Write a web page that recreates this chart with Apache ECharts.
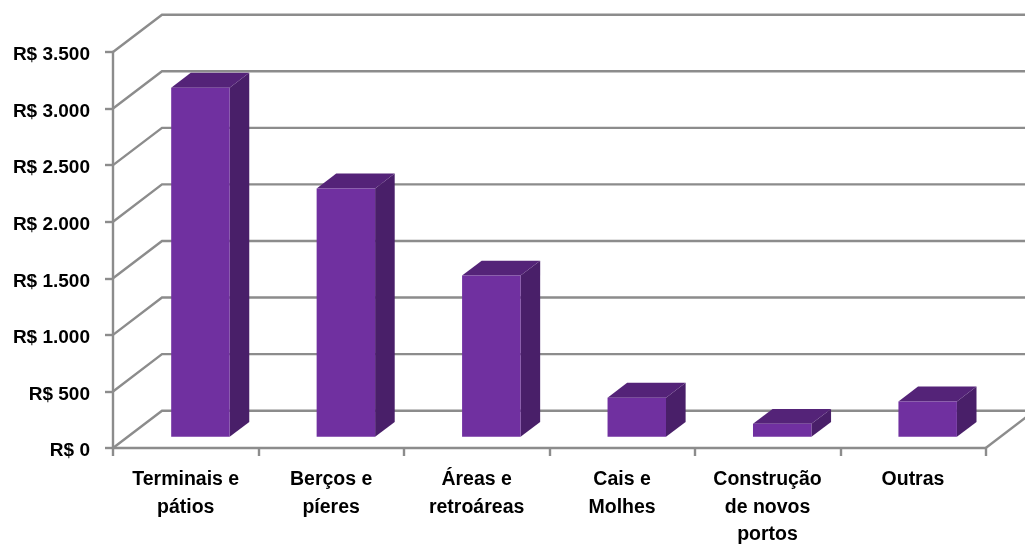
<!DOCTYPE html>
<html>
<head>
<meta charset="utf-8">
<style>html,body{margin:0;padding:0;background:#fff}#c{width:1025px;height:545px}</style>
<script src="https://cdn.jsdelivr.net/npm/echarts@6/dist/echarts.min.js"></script>
</head>
<body>
<div id="c"></div>
<script>
const categories = ['Terminais e\npátios', 'Berços e\npíeres', 'Áreas e\nretroáreas', 'Cais e\nMolhes', 'Construção\nde novos\nportos', 'Outras'];
const values = [3085, 2195, 1425, 345, 115, 312];
const wallTicks = [0, 500, 1000, 1500, 2000, 2500, 3000, 3500];

const GRID = '#8c8c8c', FRONT = '#7030a0', TOP = '#542378', SIDE = '#491f69';
const DX = 49, DY = 37.3;       // full floor depth
const START = 0.3, DEPTH = 0.4; // bar placement along the depth
const BAR = 0.402;              // bar width as a share of a band
const LINE = 2.4;

const chart = echarts.init(document.getElementById('c'), null, {renderer: 'canvas'});
const font = {fontFamily: '"Liberation Sans", Arial, sans-serif', fontWeight: 'bold', color: '#000'};

function money(v) {
  return 'R$ ' + (v >= 1000 ? Math.floor(v / 1000) + '.' + String(v % 1000).padStart(3, '0') : v);
}

chart.setOption({
  animation: false,
  backgroundColor: '#fff',
  grid: {left: 113, right: 39.3, top: 52, bottom: 97, outerBoundsMode: 'none', containLabel: false},
  xAxis: {
    type: 'category', data: categories, boundaryGap: true,
    axisLine: {lineStyle: {color: GRID, width: LINE}},
    axisTick: {show: true, length: 8, alignWithLabel: false, lineStyle: {color: GRID, width: LINE}},
    axisLabel: Object.assign({margin: 18, fontSize: 19.5, lineHeight: 27.6, interval: 0, hideOverlap: false}, font),
    splitLine: {show: false}
  },
  yAxis: {
    type: 'value', min: 0, max: 3500, interval: 500,
    axisLine: {show: true, lineStyle: {color: GRID, width: LINE}},
    axisTick: {show: true, length: 8, lineStyle: {color: GRID, width: LINE}},
    axisLabel: Object.assign({margin: 23, fontSize: 19, lineHeight: 19, verticalAlign: 'top', padding: [-6.5, 0, 0, 0], formatter: money}, font),
    splitLine: {show: false}
  },
  series: [
    {
      type: 'custom', name: 'parede', data: wallTicks.map(v => [0, v]), z: 1, silent: true, clip: false,
      encode: {x: 0, y: 1},
      renderItem(params, api) {
        const g = params.coordSys, y = api.coord([0, api.value(1)])[1];
        return {
          type: 'polyline',
          shape: {points: [[g.x, y], [g.x + DX, y - DY], [g.x + g.width + DX, y - DY]]},
          style: {stroke: GRID, lineWidth: LINE, fill: null}
        };
      }
    },
    {
      type: 'custom', name: 'floorEdge', data: [[5, 0]], z: 1, silent: true, clip: false,
      encode: {x: 0, y: 1},
      renderItem(params, api) {
        const g = params.coordSys, y = api.coord([0, 0])[1], x = g.x + g.width;
        return {
          type: 'line',
          shape: {x1: x, y1: y, x2: x + DX, y2: y - DY},
          style: {stroke: GRID, lineWidth: LINE}
        };
      }
    },
    {
      type: 'custom', name: 'Investimento', data: values.map((v, i) => [i, v]), z: 3, clip: false,
      encode: {x: 0, y: 1},
      renderItem(params, api) {
        const i = api.value(0), v = api.value(1);
        const band = api.size([1, 0])[0];
        const c = api.coord([i, v]), b = api.coord([i, 0]);
        const ox = START * DX, oy = START * DY, dx = DEPTH * DX, dy = DEPTH * DY;
        const w = band * BAR;
        const l = c[0] - w / 2 + ox, r = c[0] + w / 2 + ox, t = c[1] - oy, bt = b[1] - oy;
        return {
          type: 'group',
          children: [
            {type: 'polygon', shape: {points: [[r, t], [r + dx, t - dy], [r + dx, bt - dy], [r, bt]]}, style: {fill: SIDE}},
            {type: 'polygon', shape: {points: [[l, t], [l + dx, t - dy], [r + dx, t - dy], [r, t]]}, style: {fill: TOP}},
            {type: 'polygon', shape: {points: [[l, t], [r, t], [r, bt], [l, bt]]}, style: {fill: FRONT}}
          ]
        };
      }
    }
  ]
});
</script>
</body>
</html>
